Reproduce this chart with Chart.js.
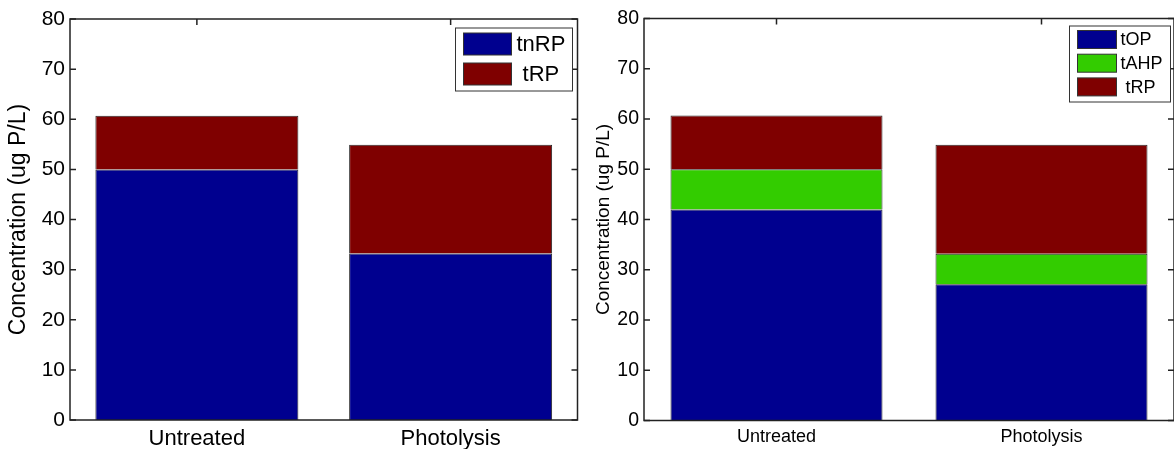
<!DOCTYPE html>
<html>
<head>
<meta charset="utf-8">
<script src="https://cdn.jsdelivr.net/npm/chart.js@4.4.1/dist/chart.umd.min.js"></script>
<style>
  html, body { margin: 0; padding: 0; background: #fff; overflow: hidden; }
  body { width: 1174px; height: 449px; position: relative; }
  canvas { position: absolute; top: 0; }
</style>
</head>
<body>
<canvas id="left" width="590" height="449" style="left:0px"></canvas>
<canvas id="right" width="590" height="449" style="left:590px"></canvas>
<script>
const categories = ["Untreated", "Photolysis"];

// left panel
const tnRP = [50, 33.2];
const tRP = [10.7, 21.7];

// right panel
const tOP = [42, 27.1];
const tAHP = [8, 6.1];
const tRPright = [10.7, 21.7];

const yMin = 0;
const yMax = 80;
const yStep = 10;

const BLUE = "#00008f";
const GREEN = "#33cc00";
const RED = "#7f0000";
const FONT = "'Liberation Sans', Arial, sans-serif";

// box + inward ticks like matlab
const matlabAxes = {
  id: "matlabAxes",
  beforeDatasetsDraw(chart) {
    const { ctx, chartArea: a, scales: { x, y } } = chart;
    ctx.save();
    ctx.strokeStyle = "#222";
    ctx.lineWidth = 1.5;
    ctx.beginPath();
    y.ticks.forEach((t, i) => {
      const py = y.getPixelForTick(i);
      ctx.moveTo(a.left, py); ctx.lineTo(a.left + 6, py);
      ctx.moveTo(a.right, py); ctx.lineTo(a.right - 6, py);
    });
    x.ticks.forEach((t, i) => {
      const px = x.getPixelForTick(i);
      ctx.moveTo(px, a.bottom); ctx.lineTo(px, a.bottom - 6);
      ctx.moveTo(px, a.top); ctx.lineTo(px, a.top + 6);
    });
    ctx.stroke();
    ctx.restore();
  },
  afterDatasetsDraw(chart) {
    const { ctx, chartArea: a } = chart;
    ctx.save();
    ctx.strokeStyle = "#222";
    ctx.lineWidth = 1.5;
    ctx.strokeRect(a.left, a.top, a.right - a.left, a.bottom - a.top);
    ctx.restore();
  },
};

// legend box inside the axes, top right
const boxLegend = {
  id: "boxLegend",
  afterDraw(chart, args, opts) {
    const { ctx, chartArea: a } = chart;
    const sets = chart.data.datasets;
    const bx = a.right - opts.right - opts.width;
    const by = a.top + opts.top;
    ctx.save();
    ctx.fillStyle = "#fff";
    ctx.fillRect(bx, by, opts.width, opts.height);
    ctx.strokeStyle = "#333";
    ctx.lineWidth = 1;
    ctx.strokeRect(bx, by, opts.width, opts.height);
    ctx.font = opts.fontSize + "px " + FONT;
    ctx.textAlign = "left";
    ctx.textBaseline = "middle";
    sets.forEach((ds, i) => {
      const sy = by + opts.first + i * opts.pitch;
      ctx.fillStyle = ds.backgroundColor;
      ctx.fillRect(bx + opts.swX, sy, opts.swW, opts.swH);
      ctx.strokeStyle = "#333";
      ctx.strokeRect(bx + opts.swX, sy, opts.swW, opts.swH);
      ctx.fillStyle = "#000";
      ctx.fillText(ds.label, bx + opts.textX, sy + opts.swH / 2 + 1);
    });
    ctx.restore();
  },
};

function makeChart(id, datasets, s) {
  return new Chart(document.getElementById(id), {
    type: "bar",
    data: { labels: categories, datasets: datasets },
    options: {
      responsive: false,
      animation: false,
      devicePixelRatio: 1,
      layout: { padding: s.padding },
      datasets: {
        bar: { categoryPercentage: 1, barPercentage: 0.8, borderColor: "#2a2a2a", borderWidth: 1 },
      },
      plugins: {
        legend: { display: false },
        tooltip: { enabled: false },
        boxLegend: s.legend,
      },
      scales: {
        x: {
          stacked: true,
          grid: { display: false, drawTicks: false },
          border: { display: false },
          ticks: { color: "#000", padding: s.xPad, font: { family: FONT, size: s.xFont } },
          afterFit: (scale) => { scale.height = s.xHeight; },
        },
        y: {
          stacked: true,
          min: yMin,
          max: yMax,
          grid: { display: false, drawTicks: false },
          border: { display: false },
          ticks: { stepSize: yStep, color: "#000", padding: s.yPad, font: { family: FONT, size: s.yFont } },
          title: {
            display: true,
            text: "Concentration (ug P/L)",
            color: "#000",
            padding: { top: s.titlePad, bottom: 0 },
            font: { family: FONT, size: s.titleFont },
          },
          afterFit: (scale) => { scale.width = s.yWidth; },
        },
      },
    },
    plugins: [matlabAxes, boxLegend],
  });
}

makeChart("left", [
  { label: "tnRP", data: tnRP, backgroundColor: BLUE },
  { label: " tRP", data: tRP, backgroundColor: RED },
], {
  padding: { top: 19, right: 12.5, left: 0, bottom: 0 },
  xHeight: 29, yWidth: 70,
  xFont: 22, yFont: 21, titleFont: 23,
  xPad: 6, yPad: 5, titlePad: 5,
  legend: { right: 5, top: 9, width: 117, height: 63, swX: 8, swW: 48, swH: 22, first: 5, pitch: 30, textX: 61, fontSize: 22 },
});

makeChart("right", [
  { label: "tOP", data: tOP, backgroundColor: BLUE },
  { label: "tAHP", data: tAHP, backgroundColor: GREEN },
  { label: " tRP", data: tRPright, backgroundColor: RED },
], {
  padding: { top: 18.5, right: 6, left: 0, bottom: 0 },
  xHeight: 28.5, yWidth: 54,
  xFont: 18, yFont: 19.5, titleFont: 19,
  xPad: 6, yPad: 5, titlePad: 2.5,
  legend: { right: 3.5, top: 7.5, width: 101, height: 76, swX: 8, swW: 39, swH: 18, first: 4.5, pitch: 23.7, textX: 51, fontSize: 18 },
});
</script>
</body>
</html>
